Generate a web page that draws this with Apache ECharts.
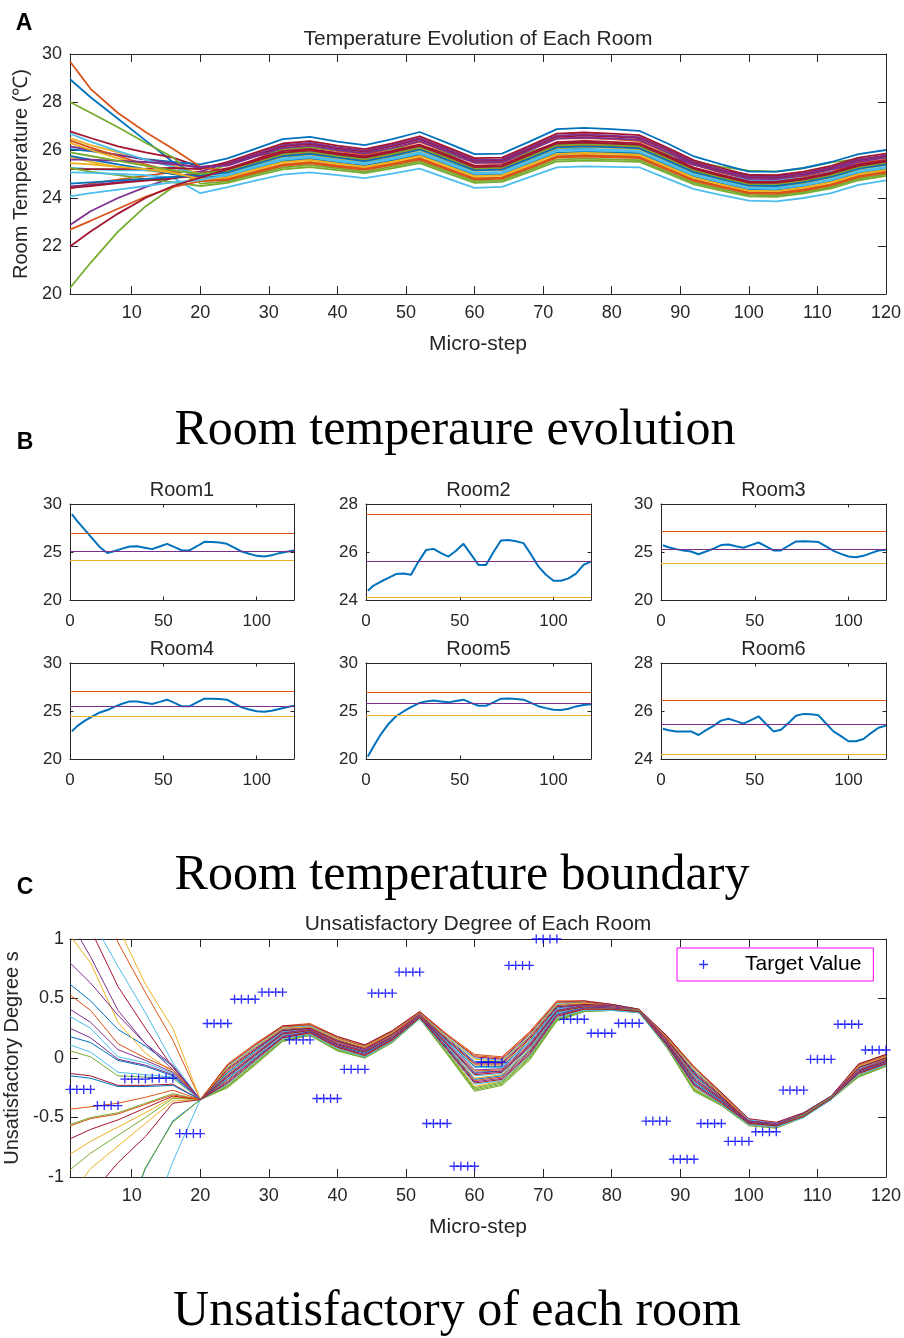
<!DOCTYPE html>
<html>
<head>
<meta charset="utf-8">
<title>Room temperature and unsatisfactory degree</title>
<script src="https://cdn.jsdelivr.net/npm/echarts@6/dist/echarts.min.js"></script>
<style>
  html, body { margin: 0; padding: 0; background: #fff; }
  #chart { width: 904px; height: 1338px; }
</style>
</head>
<body>
<div id="chart"></div>
<script>
// micro-steps at which the curves are sampled
const steps = [1, 4, 8, 12, 16, 20, 24, 28, 32, 36, 40, 44, 48, 52, 56, 60, 64, 68, 72, 76, 80, 84, 88, 92, 96, 100, 104, 108, 112, 116, 120];
const microTicks = [10, 20, 30, 40, 50, 60, 70, 80, 90, 100, 110, 120];
const roomTicks = [0, 50, 100];

// panel A: room temperatures (deg C)
const room1 = [28.95, 28.2, 27.3, 26.4, 25.5, 24.9, 25.1, 25.35, 25.57, 25.6, 25.45, 25.3, 25.57, 25.85, 25.5, 25.16, 25.16, 25.6, 26.06, 26.05, 25.98, 25.85, 25.45, 25.05, 24.82, 24.6, 24.53, 24.65, 24.88, 25.02, 25.16];
const room2 = [24.39, 24.6, 24.77, 24.92, 25.08, 25.1, 25.05, 25.6, 26.08, 26.13, 25.95, 25.81, 26.05, 26.34, 25.9, 25.46, 25.46, 26.0, 26.48, 26.5, 26.45, 26.37, 25.9, 25.39, 25.05, 24.8, 24.8, 24.9, 25.1, 25.46, 25.6];
const room3 = [25.71, 25.5, 25.3, 25.15, 25.05, 24.76, 25.05, 25.35, 25.72, 25.78, 25.6, 25.44, 25.72, 25.99, 25.58, 25.16, 25.16, 25.65, 26.1, 26.13, 26.1, 26.03, 25.58, 25.12, 24.8, 24.53, 24.46, 24.6, 24.88, 25.16, 25.23];
const room4 = [22.88, 23.45, 24.0, 24.45, 24.85, 25.1, 25.45, 25.75, 26.0, 26.0, 25.87, 25.73, 25.95, 26.18, 25.85, 25.49, 25.49, 25.9, 26.28, 26.28, 26.25, 26.18, 25.78, 25.38, 25.15, 24.97, 24.93, 25.02, 25.2, 25.4, 25.56];
const room5 = [20.25, 21.3, 22.6, 23.65, 24.45, 24.95, 25.4, 25.8, 26.0, 26.1, 26.0, 25.9, 26.05, 26.18, 25.85, 25.55, 25.55, 25.9, 26.28, 26.31, 26.25, 26.18, 25.85, 25.5, 25.3, 25.14, 25.1, 25.24, 25.48, 25.62, 25.69];
const room6 = [25.26, 25.2, 25.15, 25.15, 25.15, 25.0, 25.2, 25.38, 25.6, 25.68, 25.58, 25.47, 25.62, 25.78, 25.46, 25.15, 25.22, 25.5, 25.8, 25.88, 25.86, 25.82, 25.48, 25.15, 24.95, 24.74, 24.74, 24.83, 25.08, 25.3, 25.39];
const room7 = [26.78, 26.5, 26.15, 25.9, 25.68, 25.3, 25.41, 25.78, 26.15, 26.25, 26.07, 25.93, 26.16, 26.44, 26.0, 25.55, 25.57, 26.05, 26.55, 26.6, 26.56, 26.5, 26.0, 25.46, 25.14, 24.86, 24.85, 25.0, 25.24, 25.57, 25.75];
const room8 = [26.04, 25.95, 25.8, 25.62, 25.5, 25.4, 25.65, 26.05, 26.45, 26.55, 26.35, 26.2, 26.45, 26.75, 26.3, 25.83, 25.85, 26.35, 26.87, 26.92, 26.87, 26.8, 26.29, 25.73, 25.4, 25.1, 25.1, 25.25, 25.5, 25.83, 26.0];
const room9 = [29.69, 28.55, 27.54, 26.75, 26.05, 25.3, 25.11, 25.45, 25.78, 25.88, 25.72, 25.58, 25.81, 26.06, 25.63, 25.2, 25.22, 25.68, 26.15, 26.2, 26.16, 26.12, 25.63, 25.12, 24.82, 24.56, 24.54, 24.69, 24.92, 25.25, 25.43];
const room10 = [26.5, 26.2, 25.9, 25.6, 25.35, 25.0, 25.05, 25.39, 25.71, 25.81, 25.65, 25.52, 25.74, 25.99, 25.56, 25.13, 25.16, 25.61, 26.08, 26.12, 26.09, 26.04, 25.56, 25.05, 24.76, 24.5, 24.48, 24.63, 24.85, 25.19, 25.37];
const room11 = [26.15, 26.0, 25.8, 25.6, 25.45, 25.25, 25.45, 25.82, 26.2, 26.3, 26.11, 25.97, 26.21, 26.49, 26.05, 25.59, 25.61, 26.1, 26.6, 26.65, 26.6, 26.54, 26.04, 25.5, 25.18, 24.89, 24.89, 25.04, 25.28, 25.61, 25.78];
const room12 = [28.0, 27.55, 26.95, 26.3, 25.7, 24.6, 24.69, 24.99, 25.27, 25.37, 25.23, 25.1, 25.31, 25.53, 25.12, 24.7, 24.74, 25.17, 25.6, 25.64, 25.61, 25.58, 25.11, 24.64, 24.38, 24.13, 24.11, 24.25, 24.46, 24.81, 24.98];
const room13 = [26.68, 26.35, 25.95, 25.6, 25.3, 24.95, 24.99, 25.32, 25.64, 25.74, 25.58, 25.45, 25.66, 25.91, 25.49, 25.05, 25.09, 25.54, 26.0, 26.04, 26.01, 25.96, 25.48, 24.98, 24.7, 24.43, 24.42, 24.56, 24.79, 25.13, 25.3];
const room14 = [25.2, 25.2, 25.2, 25.22, 25.25, 25.2, 25.51, 25.89, 26.27, 26.37, 26.18, 26.04, 26.28, 26.57, 26.12, 25.66, 25.68, 26.17, 26.68, 26.73, 26.68, 26.62, 26.11, 25.57, 25.25, 24.95, 24.95, 25.1, 25.34, 25.68, 25.85];
const room15 = [25.76, 25.6, 25.4, 25.2, 25.0, 24.85, 24.91, 25.23, 25.53, 25.63, 25.48, 25.35, 25.56, 25.8, 25.38, 24.96, 24.99, 25.43, 25.88, 25.93, 25.9, 25.86, 25.38, 24.89, 24.61, 24.35, 24.33, 24.48, 24.69, 25.04, 25.21];
const room16 = [26.4, 26.1, 25.75, 25.4, 25.1, 24.7, 24.75, 25.05, 25.34, 25.44, 25.3, 25.17, 25.38, 25.6, 25.19, 24.77, 24.81, 25.24, 25.68, 25.72, 25.69, 25.66, 25.19, 24.71, 24.44, 24.19, 24.17, 24.31, 24.53, 24.87, 25.05];
const room17 = [26.3, 26.0, 25.65, 25.35, 25.05, 24.75, 24.81, 25.12, 25.41, 25.51, 25.37, 25.24, 25.45, 25.68, 25.26, 24.84, 24.88, 25.31, 25.76, 25.8, 25.77, 25.74, 25.26, 24.78, 24.5, 24.25, 24.23, 24.38, 24.59, 24.93, 25.11];
const room18 = [24.48, 24.55, 24.65, 24.75, 24.85, 24.9, 25.17, 25.52, 25.86, 25.96, 25.79, 25.65, 25.88, 26.14, 25.71, 25.27, 25.29, 25.76, 26.23, 26.28, 26.24, 26.19, 25.7, 25.19, 24.89, 24.62, 24.6, 24.75, 24.98, 25.32, 25.49];
const room19 = [25.25, 25.1, 24.95, 24.8, 24.65, 24.5, 24.63, 24.92, 25.19, 25.29, 25.16, 25.04, 25.23, 25.45, 25.04, 24.63, 24.67, 25.09, 25.52, 25.56, 25.54, 25.51, 25.04, 24.57, 24.31, 24.07, 24.05, 24.19, 24.4, 24.74, 24.92];
const room20 = [25.07, 25.05, 25.0, 24.95, 24.85, 24.2, 24.45, 24.72, 24.97, 25.07, 24.95, 24.83, 25.02, 25.22, 24.82, 24.42, 24.46, 24.87, 25.28, 25.32, 25.3, 25.28, 24.82, 24.37, 24.12, 23.89, 23.86, 24.0, 24.2, 24.55, 24.73];
const room21 = [24.42, 24.5, 24.62, 24.72, 24.82, 25.0, 25.24, 25.6, 25.95, 26.05, 25.87, 25.73, 25.96, 26.23, 25.8, 25.35, 25.38, 25.85, 26.33, 26.38, 26.34, 26.28, 25.79, 25.27, 24.96, 24.69, 24.68, 24.83, 25.06, 25.39, 25.57];
const room22 = [24.6, 24.65, 24.72, 24.8, 24.88, 24.95, 25.07, 25.41, 25.74, 25.84, 25.68, 25.54, 25.76, 26.02, 25.59, 25.15, 25.18, 25.64, 26.11, 26.15, 26.12, 26.07, 25.58, 25.08, 24.79, 24.52, 24.5, 24.65, 24.88, 25.22, 25.39];
const room23 = [22.68, 23.05, 23.55, 24.05, 24.45, 24.7, 24.79, 25.09, 25.38, 25.48, 25.34, 25.21, 25.42, 25.65, 25.23, 24.81, 24.85, 25.28, 25.73, 25.77, 25.74, 25.71, 25.23, 24.75, 24.48, 24.23, 24.21, 24.35, 24.56, 24.91, 25.09];
const room24 = [25.45, 25.4, 25.3, 25.2, 25.05, 24.8, 24.87, 25.19, 25.49, 25.59, 25.44, 25.31, 25.52, 25.76, 25.34, 24.91, 24.95, 25.39, 25.84, 25.88, 25.85, 25.81, 25.33, 24.85, 24.57, 24.31, 24.29, 24.44, 24.66, 25.0, 25.17];
const room25 = [25.6, 25.6, 25.55, 25.5, 25.4, 25.3, 25.35, 25.72, 26.08, 26.18, 26.0, 25.86, 26.09, 26.37, 25.93, 25.48, 25.5, 25.98, 26.47, 26.52, 26.48, 26.42, 25.92, 25.39, 25.08, 24.8, 24.79, 24.94, 25.18, 25.51, 25.68];
const room26 = [25.9, 25.75, 25.55, 25.35, 25.15, 25.0, 25.15, 25.49, 25.83, 25.93, 25.76, 25.62, 25.85, 26.11, 25.68, 25.24, 25.27, 25.73, 26.2, 26.25, 26.21, 26.16, 25.67, 25.16, 24.86, 24.59, 24.58, 24.73, 24.95, 25.29, 25.47];
const room27 = [24.07, 24.2, 24.35, 24.5, 24.65, 24.75, 24.95, 25.28, 25.59, 25.69, 25.54, 25.41, 25.62, 25.86, 25.44, 25.01, 25.04, 25.49, 25.95, 25.99, 25.96, 25.92, 25.44, 24.94, 24.66, 24.4, 24.38, 24.53, 24.75, 25.09, 25.26];
const room28 = [21.98, 22.6, 23.35, 24.0, 24.5, 24.85, 25.19, 25.54, 25.89, 25.99, 25.82, 25.68, 25.91, 26.17, 25.74, 25.29, 25.32, 25.79, 26.27, 26.31, 26.27, 26.22, 25.73, 25.21, 24.91, 24.64, 24.63, 24.78, 25.01, 25.34, 25.52];
const rooms = [room1, room2, room3, room4, room5, room6, room7, room8, room9, room10, room11, room12, room13, room14,
  room15, room16, room17, room18, room19, room20, room21, room22, room23, room24, room25, room26, room27, room28];

// panel B: comfort boundaries of rooms 1-6
const upperBound = [27.0, 27.58, 27.18, 27.05, 26.98, 26.43];
const meanBound = [25.1, 25.63, 25.3, 25.52, 25.76, 25.43];
const lowerBound = [24.15, 24.1, 23.83, 24.48, 24.58, 24.21];

// panel C: unsatisfactory degree s of each room
const unsat1 = [0.62, 0.48, 0.24, 0.1, -0.07, -0.35, -0.08, 0.09, 0.25, 0.27, 0.16, 0.10, 0.22, 0.38, 0.17, -0.03, -0.03, 0.18, 0.45, 0.47, 0.45, 0.41, 0.18, -0.11, -0.30, -0.52, -0.55, -0.46, -0.32, -0.06, 0.02];
const unsat2 = [2.0, 1.5, 0.97, 0.55, 0.15, -0.35, -0.05, 0.12, 0.27, 0.29, 0.18, 0.11, 0.23, 0.39, 0.20, 0.03, 0.01, 0.22, 0.48, 0.48, 0.45, 0.40, 0.19, -0.07, -0.29, -0.52, -0.55, -0.47, -0.33, -0.05, 0.03];
const unsat3 = [1.03, 0.8, 0.3, 0.04, -0.12, -0.35, -0.11, 0.07, 0.24, 0.26, 0.15, 0.08, 0.21, 0.38, 0.15, -0.06, -0.06, 0.15, 0.43, 0.46, 0.44, 0.41, 0.17, -0.13, -0.32, -0.52, -0.55, -0.47, -0.32, -0.07, 0.01];
const unsat4 = [1.15, 0.85, 0.4, 0.12, -0.1, -0.35, -0.09, 0.08, 0.24, 0.26, 0.15, 0.09, 0.21, 0.37, 0.16, -0.04, -0.04, 0.17, 0.44, 0.46, 0.44, 0.40, 0.17, -0.12, -0.31, -0.53, -0.56, -0.47, -0.33, -0.07, 0.01];
const unsat5 = [0.06, 0.01, -0.15, -0.16, -0.17, -0.35, -0.23, -0.04, 0.15, 0.20, 0.07, 0.01, 0.14, 0.34, 0.05, -0.25, -0.20, 0.01, 0.33, 0.40, 0.41, 0.39, 0.10, -0.26, -0.39, -0.56, -0.58, -0.49, -0.34, -0.15, -0.06];
const unsat6 = [1.6, 1.18, 0.77, 0.38, -0.04, -0.35, -0.07, 0.10, 0.26, 0.27, 0.17, 0.10, 0.22, 0.38, 0.18, 0.00, -0.02, 0.19, 0.46, 0.47, 0.44, 0.40, 0.18, -0.09, -0.30, -0.52, -0.55, -0.47, -0.33, -0.06, 0.02];
const unsat7 = [1.3, 1.08, 0.6, 0.25, -0.08, -0.35, -0.06, 0.11, 0.27, 0.28, 0.18, 0.11, 0.23, 0.39, 0.19, 0.01, -0.01, 0.20, 0.47, 0.48, 0.45, 0.41, 0.19, -0.08, -0.29, -0.51, -0.54, -0.46, -0.32, -0.05, 0.03];
const unsat8 = [0.18, 0.13, -0.02, -0.07, -0.15, -0.35, -0.12, 0.06, 0.23, 0.25, 0.14, 0.07, 0.20, 0.37, 0.14, -0.07, -0.07, 0.14, 0.42, 0.45, 0.43, 0.40, 0.16, -0.14, -0.33, -0.53, -0.56, -0.48, -0.33, -0.08, 0.00];
const unsat9 = [0.53, 0.4, 0.12, 0.0, -0.1, -0.35, -0.06, 0.11, 0.26, 0.28, 0.17, 0.10, 0.22, 0.38, 0.19, 0.02, 0.00, 0.21, 0.47, 0.47, 0.44, 0.39, 0.18, -0.08, -0.30, -0.53, -0.56, -0.48, -0.34, -0.06, 0.02];
const unsat10 = [2.3, 1.8, 1.1, 0.62, 0.25, -0.35, -0.08, 0.09, 0.25, 0.26, 0.16, 0.09, 0.21, 0.37, 0.17, -0.01, -0.03, 0.18, 0.45, 0.46, 0.43, 0.39, 0.17, -0.10, -0.31, -0.53, -0.56, -0.48, -0.34, -0.07, 0.01];
const unsat11 = [0.80, 0.63, 0.36, 0.12, -0.06, -0.35, -0.13, 0.05, 0.22, 0.25, 0.14, 0.07, 0.20, 0.37, 0.13, -0.10, -0.09, 0.12, 0.41, 0.45, 0.44, 0.40, 0.16, -0.15, -0.33, -0.53, -0.55, -0.47, -0.32, -0.09, 0.00];
const unsat12 = [-0.56, -0.5, -0.46, -0.38, -0.3, -0.35, -0.25, -0.06, 0.14, 0.19, 0.06, 0.00, 0.13, 0.33, 0.03, -0.28, -0.23, -0.02, 0.31, 0.39, 0.40, 0.39, 0.09, -0.28, -0.40, -0.56, -0.58, -0.49, -0.34, -0.16, -0.07];
const unsat13 = [0.35, 0.25, 0.01, -0.04, -0.13, -0.35, -0.13, 0.05, 0.22, 0.24, 0.13, 0.06, 0.19, 0.36, 0.13, -0.08, -0.08, 0.13, 0.41, 0.44, 0.42, 0.39, 0.15, -0.15, -0.34, -0.54, -0.57, -0.49, -0.34, -0.09, -0.01];
const unsat14 = [-0.13, -0.15, -0.23, -0.23, -0.22, -0.35, -0.10, 0.07, 0.23, 0.25, 0.14, 0.08, 0.20, 0.36, 0.15, -0.05, -0.05, 0.16, 0.43, 0.45, 0.43, 0.39, 0.16, -0.13, -0.32, -0.54, -0.57, -0.48, -0.34, -0.08, 0.00];
const unsat15 = [-0.15, -0.17, -0.24, -0.24, -0.23, -0.35, -0.15, 0.03, 0.20, 0.23, 0.12, 0.05, 0.18, 0.35, 0.11, -0.12, -0.11, 0.10, 0.39, 0.43, 0.42, 0.38, 0.14, -0.17, -0.35, -0.55, -0.57, -0.49, -0.34, -0.11, -0.02];
const unsat16 = [-0.43, -0.41, -0.38, -0.33, -0.27, -0.35, -0.14, 0.04, 0.21, 0.24, 0.13, 0.06, 0.19, 0.36, 0.12, -0.11, -0.10, 0.11, 0.40, 0.44, 0.43, 0.39, 0.15, -0.16, -0.34, -0.54, -0.56, -0.48, -0.33, -0.10, -0.01];
const unsat17 = [-0.81, -0.7, -0.58, -0.46, -0.33, -0.35, -0.17, 0.01, 0.19, 0.23, 0.11, 0.05, 0.17, 0.36, 0.10, -0.17, -0.14, 0.07, 0.38, 0.43, 0.43, 0.40, 0.13, -0.20, -0.35, -0.54, -0.56, -0.47, -0.33, -0.11, -0.03];
const unsat18 = [0.41, 0.3, 0.07, -0.02, -0.12, -0.35, -0.15, 0.03, 0.21, 0.24, 0.12, 0.06, 0.18, 0.36, 0.12, -0.13, -0.11, 0.10, 0.40, 0.44, 0.43, 0.40, 0.14, -0.18, -0.34, -0.53, -0.56, -0.47, -0.33, -0.10, -0.02];
const unsat19 = [-0.94, -0.8, -0.65, -0.5, -0.34, -0.35, -0.24, -0.05, 0.14, 0.19, 0.06, 0.00, 0.13, 0.33, 0.04, -0.26, -0.21, 0.00, 0.32, 0.39, 0.40, 0.38, 0.09, -0.27, -0.40, -0.57, -0.59, -0.50, -0.35, -0.16, -0.07];
const unsat20 = [0.11, 0.05, -0.12, -0.14, -0.16, -0.35, -0.17, 0.01, 0.19, 0.22, 0.10, 0.04, 0.16, 0.34, 0.10, -0.15, -0.13, 0.08, 0.38, 0.42, 0.41, 0.38, 0.12, -0.20, -0.36, -0.55, -0.58, -0.49, -0.35, -0.12, -0.04];
const unsat21 = [-0.68, -0.6, -0.52, -0.42, -0.32, -0.35, -0.16, 0.02, 0.20, 0.23, 0.11, 0.05, 0.17, 0.35, 0.11, -0.14, -0.12, 0.09, 0.39, 0.43, 0.42, 0.39, 0.13, -0.19, -0.35, -0.54, -0.57, -0.48, -0.34, -0.11, -0.03];
const unsat22 = [-2.65, -2.12, -1.52, -0.93, -0.53, -0.35, -0.18, 0.00, 0.18, 0.22, 0.10, 0.04, 0.16, 0.35, 0.09, -0.18, -0.15, 0.06, 0.37, 0.42, 0.42, 0.39, 0.12, -0.21, -0.36, -0.55, -0.57, -0.48, -0.34, -0.12, -0.04];
const unsat23 = [-0.57, -0.51, -0.47, -0.39, -0.31, -0.35, -0.19, -0.01, 0.17, 0.21, 0.09, 0.03, 0.15, 0.34, 0.08, -0.19, -0.16, 0.05, 0.36, 0.41, 0.41, 0.38, 0.11, -0.22, -0.37, -0.56, -0.58, -0.49, -0.35, -0.13, -0.05];
const unsat24 = [-1.15, -0.93, -0.74, -0.55, -0.36, -0.35, -0.22, -0.03, 0.16, 0.21, 0.08, 0.02, 0.15, 0.35, 0.06, -0.24, -0.19, 0.02, 0.34, 0.41, 0.42, 0.40, 0.11, -0.25, -0.38, -0.55, -0.57, -0.48, -0.33, -0.14, -0.05];
const unsat25 = [0.25, 0.17, -0.01, -0.06, -0.14, -0.35, -0.20, -0.01, 0.18, 0.22, 0.10, 0.03, 0.16, 0.35, 0.08, -0.20, -0.17, 0.04, 0.36, 0.42, 0.42, 0.40, 0.12, -0.22, -0.37, -0.54, -0.56, -0.48, -0.33, -0.12, -0.04];
const unsat26 = [-2.6, -2.1, -1.5, -0.92, -0.54, -0.35, -0.24, -0.05, 0.15, 0.20, 0.07, 0.01, 0.14, 0.34, 0.04, -0.27, -0.22, -0.01, 0.32, 0.40, 0.41, 0.40, 0.10, -0.27, -0.39, -0.55, -0.57, -0.48, -0.33, -0.15, -0.06];
const unsat27 = [-3.5, -2.9, -2.2, -1.5, -0.87, -0.35, -0.22, -0.03, 0.16, 0.20, 0.08, 0.01, 0.14, 0.33, 0.06, -0.22, -0.19, 0.02, 0.34, 0.40, 0.40, 0.38, 0.10, -0.24, -0.39, -0.56, -0.58, -0.50, -0.35, -0.14, -0.06];
const unsat28 = [-1.45, -1.15, -0.88, -0.66, -0.38, -0.35, -0.21, -0.02, 0.17, 0.21, 0.09, 0.02, 0.15, 0.34, 0.07, -0.21, -0.18, 0.03, 0.35, 0.41, 0.41, 0.39, 0.11, -0.23, -0.38, -0.55, -0.57, -0.49, -0.34, -0.13, -0.05];
const unsats = [unsat1, unsat2, unsat3, unsat4, unsat5, unsat6, unsat7, unsat8, unsat9, unsat10, unsat11, unsat12, unsat13, unsat14,
  unsat15, unsat16, unsat17, unsat18, unsat19, unsat20, unsat21, unsat22, unsat23, unsat24, unsat25, unsat26, unsat27, unsat28];

// target value, held for 4 micro-steps each (steps 1-4, 5-8, ..., 117-120)
const targetValues = [-0.264, -0.40, -0.177, -0.17, -0.635, 0.29, 0.494, 0.553, 0.152, -0.34, -0.095, 0.545, 0.722, -0.55, -0.91,
  -0.036, 0.778, 1.0, 0.326, 0.208, 0.292, -0.53, -0.851, -0.55, -0.70, -0.62, -0.27, -0.011, 0.284, 0.067];

const COLORS = ['#0072BD', '#D95319', '#EDB120', '#7E2F8E', '#77AC30', '#4DBEEE', '#A2142F'];
const FONT = '"Liberation Sans", Arial, sans-serif';
const SERIF = '"Liberation Serif", "Times New Roman", serif';
const INK = '#262626';
const PLUS = 'path://M4.25,0H5.75V4.25H10V5.75H5.75V10H4.25V5.75H0V4.25H4.25Z';

const grids = [], xAxes = [], yAxes = [], series = [];

// one boxed panel: labelled bottom/left axes plus bare top/right axes for the ticks
function addPanel(rect, xr, yr, tickLen, labelSize) {
  const gi = grids.length;
  grids.push(Object.assign({ outerBoundsMode: 'none', containLabel: false }, rect));
  const axisLine = { show: true, onZero: false, lineStyle: { color: INK, width: 1 } };
  const xi = xAxes.length, yi = yAxes.length;
  ['bottom', 'top'].forEach((pos, k) => {
    xAxes.push({
      gridIndex: gi, type: 'value', position: pos, min: xr.min, max: xr.max,
      axisLine, splitLine: { show: false },
      axisTick: { show: true, inside: true, length: tickLen, customValues: xr.ticks, lineStyle: { color: INK } },
      axisLabel: { show: k === 0, customValues: xr.ticks, margin: xr.margin, fontSize: labelSize, color: INK, fontFamily: FONT },
      name: k === 0 ? (xr.name || '') : '', nameLocation: 'middle', nameGap: xr.nameGap || 0,
      nameTextStyle: { fontSize: 21, color: INK, fontFamily: FONT }
    });
  });
  ['left', 'right'].forEach((pos, k) => {
    yAxes.push({
      gridIndex: gi, type: 'value', position: pos, min: yr.min, max: yr.max, interval: yr.interval,
      axisLine, splitLine: { show: false },
      axisTick: { show: true, inside: true, length: tickLen, lineStyle: { color: INK } },
      axisLabel: { show: k === 0, margin: yr.margin, fontSize: labelSize, color: INK, fontFamily: FONT },
      name: k === 0 ? (yr.name || '') : '', nameLocation: 'middle', nameGap: yr.nameGap || 0, nameRotate: 90,
      nameTextStyle: { fontSize: 20, color: INK, fontFamily: FONT }
    });
  });
  return { x: xi, y: yi };
}

// ---- panel A
const pA = addPanel({ left: 70, top: 54, width: 816, height: 240 },
  { min: 1, max: 120, ticks: microTicks, margin: 10, name: 'Micro-step', nameGap: 40 },
  { min: 20, max: 30, interval: 2, margin: 8, name: 'Room Temperature (℃)', nameGap: 31 }, 8, 18);
rooms.forEach((r, i) => {
  series.push({
    type: 'line', xAxisIndex: pA.x, yAxisIndex: pA.y, showSymbol: false, silent: true,
    lineStyle: { width: 1.8, color: COLORS[i % 7] },
    data: steps.map((s, k) => [s, r[k]])
  });
});

// ---- panel B
const bCols = [{ left: 70, width: 224 }, { left: 366, width: 225 }, { left: 661, width: 225 }];
const bTops = [504, 663];
const bRanges = [[20, 30, 5], [24, 28, 2], [20, 30, 5], [20, 30, 5], [20, 30, 5], [24, 28, 2]];
const bTitles = [];
for (let i = 0; i < 6; i++) {
  const col = bCols[i % 3], top = bTops[Math.floor(i / 3)];
  const p = addPanel({ left: col.left, top, width: col.width, height: 96 },
    { min: 0, max: 120, ticks: roomTicks, margin: 13 },
    { min: bRanges[i][0], max: bRanges[i][1], interval: bRanges[i][2], margin: 8 }, 3.5, 17);
  bTitles.push({ x: col.left + col.width / 2, y: top - 14, text: 'Room' + (i + 1) });
  series.push({
    type: 'line', xAxisIndex: p.x, yAxisIndex: p.y, showSymbol: false, silent: true,
    lineStyle: { width: 2, color: COLORS[0] },
    data: steps.map((s, k) => [s, rooms[i][k]]),
    markLine: {
      silent: true, symbol: ['none', 'none'], label: { show: false },
      data: [
        { yAxis: upperBound[i], lineStyle: { color: COLORS[1], width: 1, type: 'solid' } },
        { yAxis: meanBound[i], lineStyle: { color: COLORS[3], width: 1, type: 'solid' } },
        { yAxis: lowerBound[i], lineStyle: { color: COLORS[2], width: 1, type: 'solid' } }
      ]
    }
  });
}

// ---- panel C
const pC = addPanel({ left: 70, top: 939, width: 816, height: 238 },
  { min: 1, max: 120, ticks: microTicks, margin: 10, name: 'Micro-step', nameGap: 40 },
  { min: -1, max: 1, interval: 0.5, margin: 6, name: 'Unsatisfactory Degree s', nameGap: 44 }, 8, 18);
unsats.forEach((u, i) => {
  series.push({
    type: 'line', xAxisIndex: pC.x, yAxisIndex: pC.y, showSymbol: false, silent: true, clip: true,
    lineStyle: { width: 1, color: COLORS[i % 7] },
    data: steps.map((s, k) => [s, u[k]])
  });
});
const targetPoints = [];
targetValues.forEach((v, g) => {
  for (let j = 1; j <= 4; j++) targetPoints.push([4 * g + j, v]);
});
series.push({
  name: 'Target Value', type: 'scatter', xAxisIndex: pC.x, yAxisIndex: pC.y, clip: false, silent: true,
  symbol: PLUS, symbolSize: 9, itemStyle: { color: '#0000FF' }, data: targetPoints, z: 5
});

const txt = (x, y, text, size, extra) => ({
  type: 'text', x, y, silent: true,
  style: Object.assign({ text, fontSize: size, fontFamily: FONT, fill: '#000', align: 'center', verticalAlign: 'middle' }, extra || {})
});
const graphic = [
  txt(24, 24, 'A', 23, { fontWeight: 'bold' }),
  txt(25, 443, 'B', 23, { fontWeight: 'bold' }),
  txt(25, 888, 'C', 23, { fontWeight: 'bold' }),
  txt(478, 39, 'Temperature Evolution of Each Room', 21, { fill: INK }),
  txt(478, 924, 'Unsatisfactory Degree of Each Room', 21, { fill: INK }),
  txt(455, 431, 'Room temperaure evolution', 50, { fontFamily: SERIF }),
  txt(462, 876, 'Room temperature boundary', 50, { fontFamily: SERIF }),
  txt(457, 1312, 'Unsatisfactory of each room', 50, { fontFamily: SERIF })
].concat(bTitles.map(t => txt(t.x, t.y, t.text, 20, { fill: INK })));

const chart = echarts.init(document.getElementById('chart'));
chart.setOption({
  animation: false,
  backgroundColor: '#fff',
  grid: grids,
  xAxis: xAxes,
  yAxis: yAxes,
  series,
  graphic,
  legend: {
    data: ['Target Value'], left: 677, top: 948, selectedMode: false,
    backgroundColor: '#fff', borderColor: '#FF00FF', borderWidth: 1, borderRadius: 0,
    padding: [6, 12, 6, 22], itemWidth: 9, itemHeight: 9, icon: PLUS,
    textStyle: { fontSize: 21, color: '#000', fontFamily: FONT, padding: [0, 0, 0, 32] }
  }
});
</script>
</body>
</html>
